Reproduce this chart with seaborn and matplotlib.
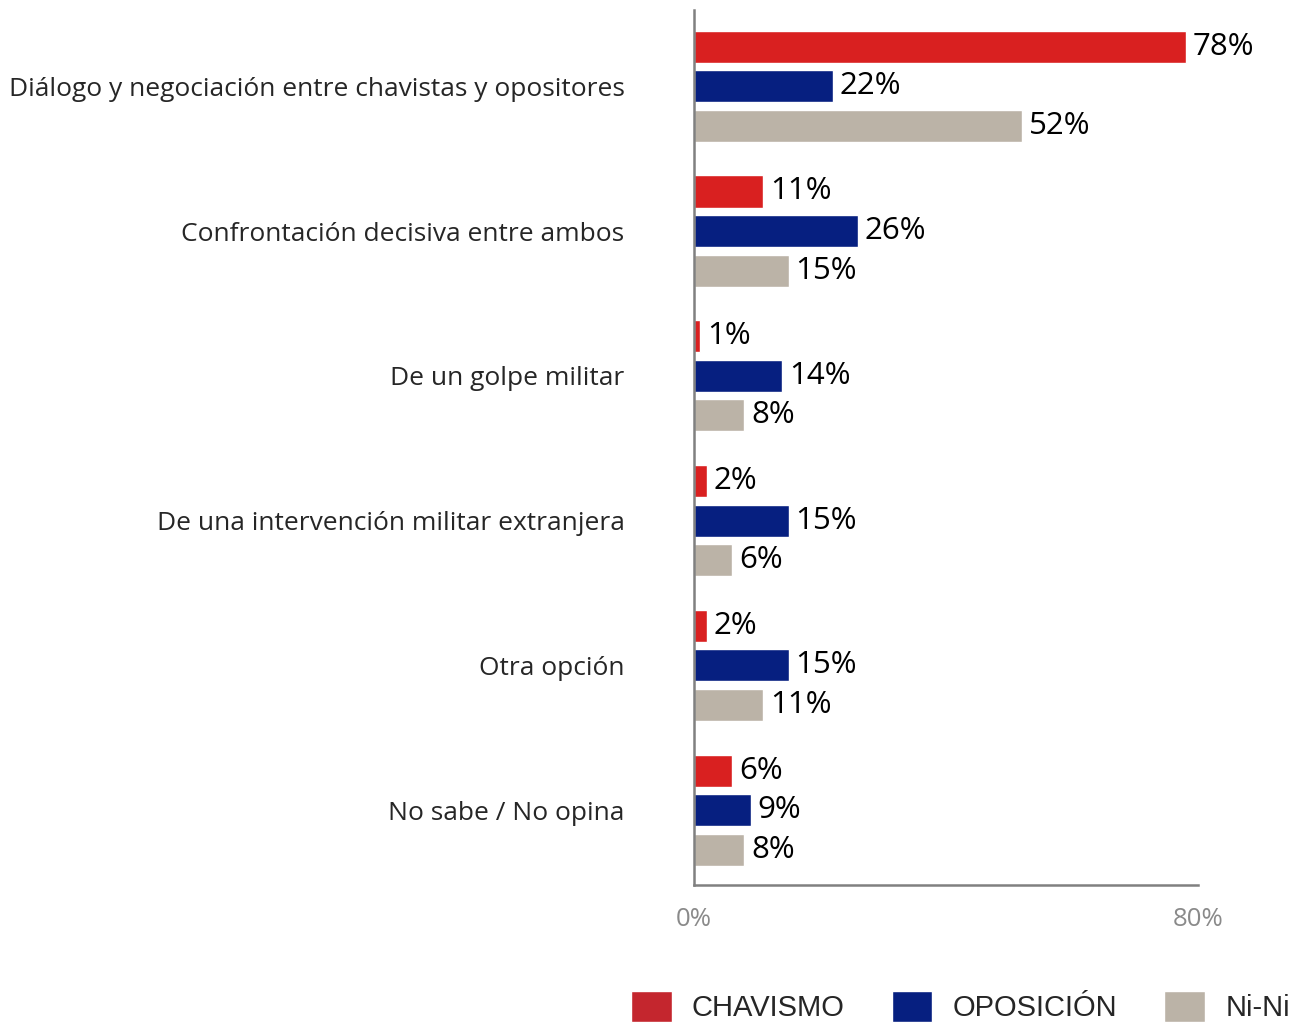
import pandas as pd
import matplotlib.pyplot as plt
import seaborn as sns
from matplotlib.patches import Patch

# Chart data
categorias = [
    "Diálogo y negociación entre chavistas y opositores",
    "Confrontación decisiva entre ambos",
    "De un golpe militar",
    "De una intervención militar extranjera",
    "Otra opción",
    "No sabe / No opina",
]
chavismo = [78, 11, 1, 2, 2, 6]
oposicion = [22, 26, 14, 15, 15, 9]
nini = [52, 15, 8, 6, 11, 8]
grupos = ["CHAVISMO", "OPOSICIÓN", "Ni-Ni"]
colores = ["#D92020", "#061F80", "#BBB3A7"]
x_ticks = [0, 80]
x_ticklabels = ["0%", "80%"]

# Long format for seaborn
df = pd.DataFrame({
    "categoria": categorias * 3,
    "grupo": [g for g in grupos for _ in categorias],
    "valor": chavismo + oposicion + nini,
})

sns.set_style("white")
plt.rcParams["font.family"] = ["Open Sans", "DejaVu Sans"]

fig = plt.figure(figsize=(12.96, 10.28), dpi=100)
ax = fig.add_axes([0.5355, 0.139, 0.389, 0.851])

sns.barplot(data=df, y="categoria", x="valor", hue="grupo", orient="h",
            palette=colores, width=0.82, gap=0.19, order=categorias,
            hue_order=grupos, ax=ax, legend=False, saturation=1)

for cont in ax.containers:
    ax.bar_label(cont, fmt="%d%%", padding=5, fontsize=22.5, color="black")

ax.set_xlim(0, 80)
ax.set_ylim(5.518, -0.525)
ax.set_xticks(x_ticks)
ax.set_xticklabels(x_ticklabels, color="#8A8A8A", fontsize=18.5)
ax.set_xlabel("")
ax.set_ylabel("")
ax.tick_params(axis="y", length=0, pad=50, labelsize=19)
ax.tick_params(axis="x", length=0, pad=16)
sns.despine(ax=ax)
for s in ["left", "bottom"]:
    ax.spines[s].set_color("#808080")
    ax.spines[s].set_linewidth(1.8)

# Legend at the bottom
handles = [Patch(facecolor=c) for c in ["#C4262E", "#061F80", "#BBB3A7"]]
fig.legend(handles, grupos, loc="lower center", bbox_to_anchor=(0.741, -0.02),
           ncol=3, frameon=False, handlelength=1.4, handleheight=1.3,
           handletextpad=0.7, columnspacing=1.6,
           prop={"family": "Liberation Sans", "size": 21})

fig.savefig("out.png", dpi=100)
